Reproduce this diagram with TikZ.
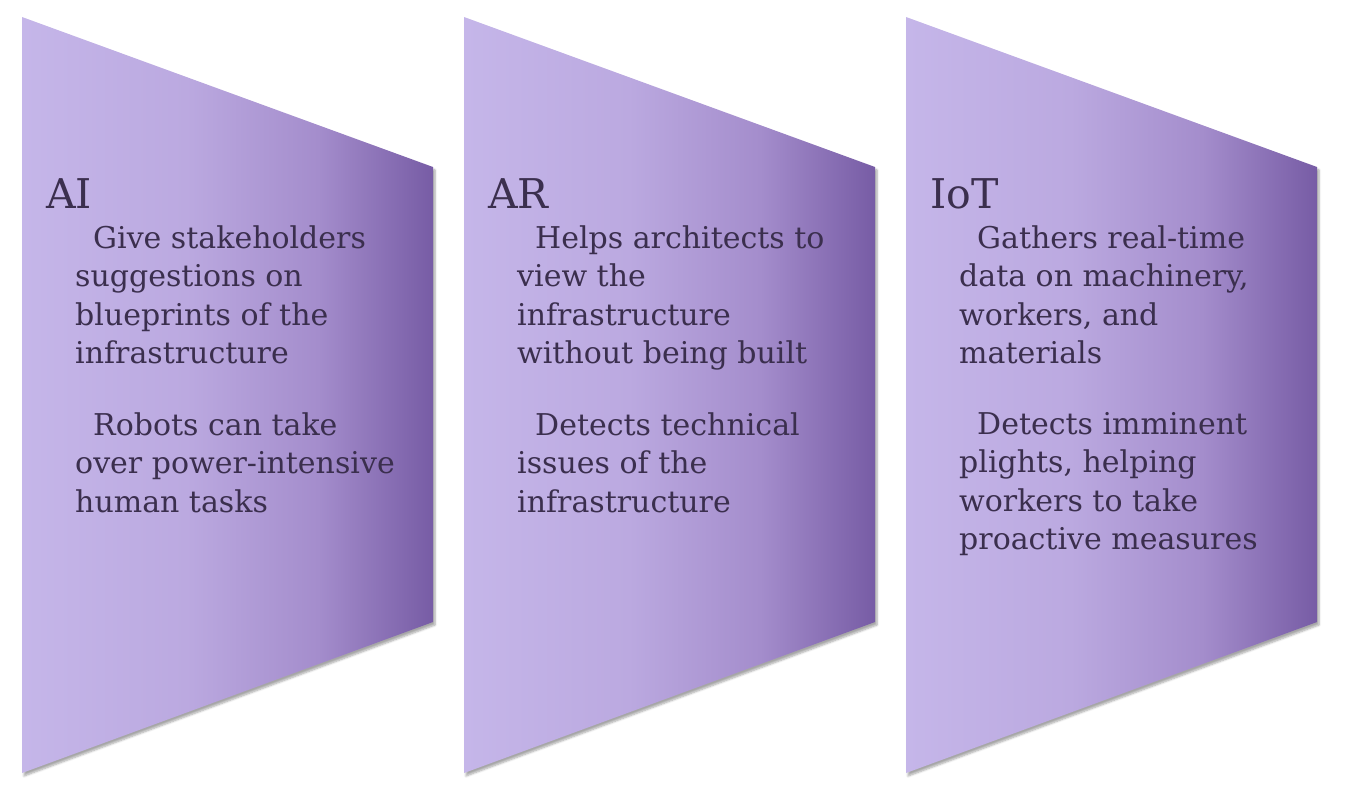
\documentclass[tikz,border=0pt]{standalone}
\usepackage{fontspec}
\setmainfont{DejaVu Serif}
\usetikzlibrary{shadows.blur}

\definecolor{lavA}{HTML}{C5B6E9}
\definecolor{lavB}{HTML}{BBA9E0}
\definecolor{lavC}{HTML}{A48DCC}
\definecolor{lavD}{HTML}{775CA5}
\definecolor{inkpurple}{HTML}{3B2F4E}

% the shading box is 100bp, the path gets its middle part (25bp to 75bp)
\pgfdeclarehorizontalshading{panelshade}{100bp}{color(0bp)=(lavA); color(25bp)=(lavA); color(45bp)=(lavB); color(61bp)=(lavC); color(75bp)=(lavD); color(100bp)=(lavD)}

\tikzset{
  panel/.style={shading=panelshade, draw=none,
    blur shadow={shadow xshift=2pt, shadow yshift=-3pt, shadow blur steps=6, shadow opacity=35}},
  paneltitle/.style={anchor=base west, inner sep=0pt, text=inkpurple,
    font=\fontsize{41}{48}\selectfont},
  paneltext/.style={anchor=north west, inner sep=0pt, text=inkpurple, align=left,
    font=\fontsize{30}{38.5}\selectfont}
}

\begin{document}
\begin{tikzpicture}[x=1pt,y=-1pt]
	\useasboundingbox (0,0) rectangle (1352,796);
	
	% the three panels
	\foreach \dx in {0,442,884}
	\shade[panel] (22+\dx,17) -- (433+\dx,167) -- (433+\dx,622) -- (22+\dx,773) -- cycle;
	
	% AI
	\node[paneltitle] (ai) at (46,208) {AI};
	\node[paneltext] (aione) at (75,225) {\hspace*{18pt}Give stakeholders\\suggestions on\\blueprints of the\\infrastructure};
	\node[paneltext] (aitwo) at (75,412) {\hspace*{18pt}Robots can take\\over power-intensive\\human tasks};
	
	% AR
	\node[paneltitle] (ar) at (488,208) {AR};
	\node[paneltext] (arone) at (517,225) {\hspace*{18pt}Helps architects to\\view the\\infrastructure\\without being built};
	\node[paneltext] (artwo) at (517,412) {\hspace*{18pt}Detects technical\\issues of the\\infrastructure};
	
	% IoT
	\node[paneltitle] (iot) at (930,208) {IoT};
	\node[paneltext] (iotone) at (959,225) {\hspace*{18pt}Gathers real-time\\data on machinery,\\workers, and\\materials};
	\node[paneltext] (iottwo) at (959,412) {\hspace*{18pt}Detects imminent\\plights, helping\\workers to take\\proactive measures};
	
\end{tikzpicture}
\end{document}
